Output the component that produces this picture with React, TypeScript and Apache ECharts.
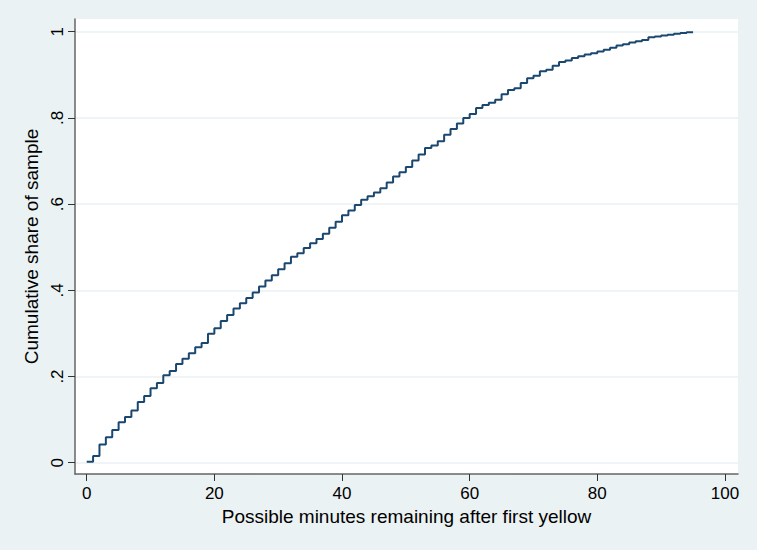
import React, { useEffect, useRef } from "react";
import * as echarts from "echarts";

const minutes = [
  0, 1, 2, 3, 4, 5, 6, 7, 8, 9, 10, 11, 12, 13, 14, 15, 16, 17, 18, 19,
  20, 21, 22, 23, 24, 25, 26, 27, 28, 29, 30, 31, 32, 33, 34, 35, 36, 37, 38, 39,
  40, 41, 42, 43, 44, 45, 46, 47, 48, 49, 50, 51, 52, 53, 54, 55, 56, 57, 58, 59,
  60, 61, 62, 63, 64, 65, 66, 67, 68, 69, 70, 71, 72, 73, 74, 75, 76, 77, 78, 79,
  80, 81, 82, 83, 84, 85, 86, 87, 88, 89, 90, 91, 92, 93, 94, 95,
];

const cumulativeShare = [
  0.002, 0.0155, 0.042, 0.059, 0.076, 0.094, 0.106, 0.121, 0.141, 0.155,
  0.173, 0.185, 0.203, 0.213, 0.229, 0.241, 0.254, 0.268, 0.278, 0.299,
  0.312, 0.329, 0.343, 0.358, 0.37, 0.382, 0.395, 0.409, 0.423, 0.435,
  0.449, 0.463, 0.478, 0.486, 0.498, 0.509, 0.519, 0.531, 0.545, 0.559,
  0.574, 0.585, 0.598, 0.61, 0.618, 0.627, 0.637, 0.65, 0.664, 0.674,
  0.686, 0.701, 0.715, 0.73, 0.736, 0.746, 0.761, 0.774, 0.787, 0.8,
  0.809, 0.823, 0.83, 0.835, 0.842, 0.855, 0.865, 0.869, 0.881, 0.892,
  0.898, 0.908, 0.912, 0.921, 0.93, 0.933, 0.939, 0.943, 0.947, 0.95,
  0.954, 0.958, 0.963, 0.968, 0.971, 0.975, 0.978, 0.981, 0.987, 0.989,
  0.991, 0.993, 0.995, 0.997, 0.999, 1.0,
];

const xTicks = [0, 20, 40, 60, 80, 100];
const yTicks = [0, 0.2, 0.4, 0.6, 0.8, 1];

const xTitle = "Possible minutes remaining after first yellow";
const yTitle = "Cumulative share of sample";

const FONT = "'Liberation Sans', Arial, Helvetica, sans-serif";

export default function App() {
  const ref = useRef<HTMLDivElement>(null);

  useEffect(() => {
    document.body.style.margin = "0";
    if (!ref.current) return;
    const chart = echarts.init(ref.current, undefined, { renderer: "svg" });
    const data = minutes.map((m, i) => [m, cumulativeShare[i]]);
    chart.setOption({
      animation: false,
      backgroundColor: "#EAF2F3",
      grid: {
        left: 75,
        right: 19,
        top: 19,
        bottom: 76,
        show: true,
        backgroundColor: "#ffffff",
        borderWidth: 0,
      },
      xAxis: {
        type: "value",
        min: -1.833,
        max: 102.04,
        name: xTitle,
        nameLocation: "middle",
        nameGap: 33,
        nameTextStyle: { color: "#000", fontSize: 19, fontFamily: FONT },
        axisLine: { show: true, onZero: false, lineStyle: { color: "#666", width: 1.5 } },
        axisTick: {
          show: true,
          length: 7,
          customValues: xTicks,
          lineStyle: { color: "#333", width: 1 },
        },
        axisLabel: {
          customValues: xTicks,
          margin: 11,
          color: "#000",
          fontSize: 17,
          fontFamily: FONT,
        },
        splitLine: { show: false },
      },
      yAxis: {
        type: "value",
        min: -0.0262,
        max: 1.0295,
        name: yTitle,
        nameLocation: "middle",
        nameGap: 33,
        nameTextStyle: { color: "#000", fontSize: 19, fontFamily: FONT },
        axisLine: { show: true, onZero: false, lineStyle: { color: "#666", width: 1.5 } },
        axisTick: {
          show: true,
          length: 7,
          customValues: yTicks,
          lineStyle: { color: "#333", width: 1 },
        },
        axisLabel: {
          customValues: yTicks,
          rotate: 90,
          margin: 9,
          color: "#000",
          fontSize: 17,
          fontFamily: FONT,
          formatter: (v: number) =>
            v === 0 ? "0" : v === 1 ? "1" : v.toFixed(1).replace(/^0/, ""),
        },
        splitLine: { show: true, lineStyle: { color: "#EAF2F3", width: 1.5 } },
      },
      series: [
        {
          type: "line",
          data,
          step: "end",
          showSymbol: false,
          lineStyle: { color: "#1a476f", width: 2 },
        },
      ],
    });
    return () => chart.dispose();
  }, []);

  return <div ref={ref} style={{ width: 757, height: 550 }} />;
}
